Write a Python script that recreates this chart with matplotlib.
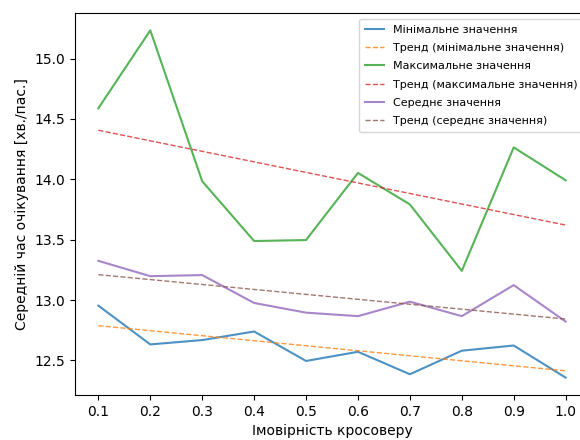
import numpy as np
import matplotlib
matplotlib.use("Agg")
from matplotlib import pyplot as plt

probs = [0.1, 0.2, 0.3, 0.4, 0.5, 0.6, 0.7, 0.8, 0.9, 1.0]
min_vals = [12.954, 12.633, 12.669, 12.740, 12.496, 12.572, 12.386, 12.581, 12.624, 12.358]
max_vals = [14.588, 15.233, 13.984, 13.489, 13.497, 14.053, 13.792, 13.242, 14.264, 13.992]
mean_vals = [13.325, 13.198, 13.207, 12.976, 12.896, 12.867, 12.987, 12.867, 13.124, 12.822]


def trend(x, y):
    k, b = np.polyfit(x, y, 1)
    return np.polyval([k, b], x)


x = np.array(probs)

fig = plt.figure(figsize=(5.8, 4.4), dpi=100)
# axes run past the right edge of the picture, as in the screenshot
ax = fig.add_axes([75 / 580, 45 / 440, 514 / 580, 382 / 440])

ax.plot(x, min_vals, alpha=0.8, label='Мінімальне значення')
ax.plot(x, trend(x, min_vals), '--', alpha=0.8, linewidth=1, label='Тренд (мінімальне значення)')
ax.plot(x, max_vals, alpha=0.8, label='Максимальне значення')
ax.plot(x, trend(x, max_vals), '--', alpha=0.8, linewidth=1, label='Тренд (максимальне значення)')
ax.plot(x, mean_vals, alpha=0.8, label='Середнє значення')
ax.plot(x, trend(x, mean_vals), '--', alpha=0.8, linewidth=1, label='Тренд (середнє значення)')

ax.set_xticks(probs)
ax.set_xticklabels([f'{p:.1f}' for p in probs])
ax.set_xlabel('Імовірність кросоверу')
ax.set_ylabel('Середній час очікування [хв./пас.]')
ax.legend(loc='upper right', fontsize=8, labelspacing=0.75, borderpad=0.55, handlelength=1.7)

fig.savefig('out.png', dpi=100)
